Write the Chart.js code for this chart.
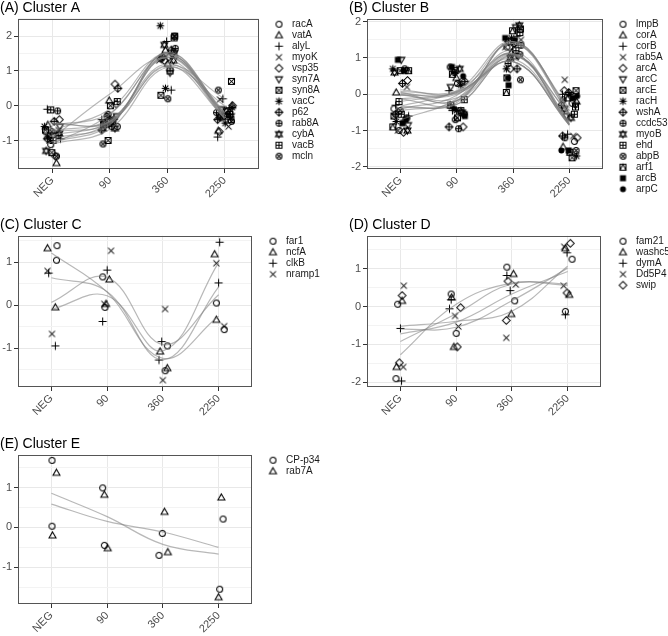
<!DOCTYPE html>
<html>
<head>
<meta charset="utf-8">
<script src="https://cdn.jsdelivr.net/npm/chart.js@4.4.0/dist/chart.umd.min.js"></script>
<style>
  body { margin: 0; background: #fff; width: 668px; height: 636px; overflow: hidden; position: relative; }
  canvas { position: absolute; }
</style>
</head>
<body>
<canvas id="panelA" width="334" height="210" style="left:0px;top:0px"></canvas>
<canvas id="panelB" width="345" height="210" style="left:349px;top:0px"></canvas>
<canvas id="panelC" width="334" height="210" style="left:0px;top:217px"></canvas>
<canvas id="panelD" width="345" height="210" style="left:349px;top:217px"></canvas>
<canvas id="panelE" width="334" height="200" style="left:0px;top:436px"></canvas>
<script>
// time points on the x axis
const timepoints = ['NEG', '90', '360', '2250']

// each gene row: NEG rep1, NEG rep2, 90 rep1, 90 rep2, 360 rep1, 360 rep2, 2250 rep1, 2250 rep2
const genesA = ['racA', 'vatA', 'alyL', 'myoK', 'vsp35', 'syn7A', 'syn8A', 'vacC', 'p62', 'rab8A', 'cybA', 'vacB', 'mcln']
const valuesA = [
  [-0.75, -1.12, -0.45, -0.60, 1.35, 1.55, -0.15, -0.20],
  [-0.55, -1.65, 0.15, -0.65, 1.60, 1.20, 0.00, -0.72],
  [-0.10, -0.95, -0.40, -0.50, 0.45, 1.85, -0.90, 0.20],
  [-0.70, -1.00, -0.35, -0.55, 1.50, 1.30, 0.18, -0.60],
  [-0.40, -1.45, 0.62, 0.05, 1.30, 1.40, -0.75, 0.00],
  [-0.85, -0.60, -0.50, -0.30, 0.95, 1.45, -0.30, -0.10],
  [-1.35, -0.70, -1.00, 0.00, 2.00, 0.30, 0.70, -0.30],
  [-0.60, -0.90, -0.40, -0.55, 2.30, 0.50, -0.50, -0.05],
  [-0.45, -0.95, 0.50, -0.70, 1.40, 1.60, -0.30, -0.40],
  [-0.15, -0.85, -0.30, -0.60, 1.40, 1.65, -0.20, -0.35],
  [-1.30, -0.80, -0.45, -0.65, 1.30, 1.75, -0.15, -0.30],
  [-0.12, -1.00, 0.12, -0.55, 1.95, 1.00, -0.25, -0.40],
  [-1.45, -0.75, -1.10, -0.25, 0.20, 2.00, 0.45, -0.45]
]

const genesB = ['lmpB', 'corA', 'corB', 'rab5A', 'arcA', 'arcC', 'arcE', 'racH', 'wshA', 'ccdc53', 'myoB', 'ehd', 'abpB', 'arf1', 'arcB', 'arpC']
const valuesB = [
  [-0.40, -1.00, 0.30, -0.55, 1.30, 1.10, -0.25, -1.30],
  [0.05, -0.70, 0.45, -0.30, 1.15, 1.05, -0.20, -1.45],
  [-0.30, -0.60, 0.10, -0.45, 1.60, 1.20, 0.00, -1.10],
  [0.20, -1.00, 0.30, -0.35, 1.50, 1.30, 0.40, -1.15],
  [0.38, -1.05, 0.35, -0.90, 0.70, 1.40, 0.10, -1.20],
  [0.95, -0.85, 0.20, -0.55, 1.85, 1.05, -0.30, -0.60],
  [0.65, -0.60, 0.65, -0.65, 1.80, 0.45, 0.10, -1.75],
  [0.70, -0.75, 0.25, -0.45, 0.70, 1.55, 0.00, -1.70],
  [0.30, -0.55, 0.35, -0.90, 1.45, 0.70, 0.05, -1.15],
  [0.65, -0.65, 0.60, -0.95, 0.85, 1.35, -0.30, -1.20],
  [0.60, -1.00, 0.70, -0.50, 1.90, 1.00, -0.65, -0.40],
  [-0.20, -0.55, -0.15, -0.30, 1.70, 1.20, -0.55, -0.35],
  [0.70, -0.45, 0.75, -0.70, 1.40, 0.40, -0.15, -1.55],
  [0.65, -0.90, 0.55, -0.45, 1.75, 0.05, -0.10, -1.60],
  [0.95, -0.80, 0.75, -0.60, 1.55, 0.25, -0.10, -1.55],
  [0.65, -0.70, 0.50, -0.40, 1.50, 0.45, -0.05, -1.55]
]

const genesC = ['far1', 'ncfA', 'clkB', 'nramp1']
const valuesC = [
  [1.39, 1.05, 0.66, -0.05, -0.95, -1.53, 0.05, -0.57],
  [1.33, -0.05, 0.60, 0.03, -1.08, -1.47, 1.19, -0.34],
  [0.75, -0.95, 0.82, -0.38, -0.85, -1.28, 1.47, 0.52],
  [0.80, -0.67, 1.27, 0.03, -0.09, -1.75, 0.98, -0.49]
]
const jitterC = [
  [0.10, 0.09, -0.08, -0.04, 0.08, 0.04, -0.04, 0.10],
  [-0.07, 0.07, 0.04, -0.02, -0.05, 0.08, -0.07, -0.04],
  [-0.05, 0.07, 0.00, -0.08, -0.02, -0.07, 0.02, 0.00],
  [-0.07, 0.01, 0.07, -0.05, 0.04, 0.00, -0.04, 0.10]
]

const genesD = ['fam21', 'washc5', 'dymA', 'Dd5P4', 'swip']
const valuesD = [
  [0.06, -1.91, 0.33, -0.71, 1.04, 0.15, 1.25, -0.13],
  [0.15, -1.60, 0.24, -1.07, 0.86, -0.20, 1.54, 0.31],
  [-0.58, -1.97, 0.18, -0.06, 0.82, 0.42, 1.42, -0.22],
  [0.55, -1.60, -0.25, -0.53, 0.58, -0.83, 1.58, 0.55],
  [0.29, -1.49, -0.03, -1.07, 0.67, -0.37, 1.67, 0.36]
]
const jitterD = [
  [-0.05, -0.08, -0.09, 0.00, -0.09, 0.05, 0.08, -0.04],
  [0.03, -0.07, -0.08, -0.04, 0.03, -0.01, -0.04, 0.03],
  [0.00, 0.02, -0.09, -0.12, -0.09, -0.03, -0.01, -0.04],
  [0.06, 0.05, -0.02, 0.04, 0.07, -0.10, -0.06, -0.07],
  [0.03, -0.02, 0.08, 0.02, -0.07, -0.10, 0.05, -0.01]
]

const genesE = ['CP-p34', 'rab7A']
const valuesE = [
  [1.68, 0.03, 0.99, -0.45, -0.15, -0.70, 0.21, -1.55],
  [1.37, -0.20, 0.82, -0.52, 0.39, -0.62, 0.75, -1.75]
]
const jitterE = [
  [0.01, 0.01, -0.08, -0.05, -0.01, -0.07, 0.08, 0.02],
  [0.09, 0.02, -0.05, 0.01, 0.03, 0.09, 0.05, 0.00]
]

// horizontal spread used for the crowded panels A and B
const jitterPattern = [-0.12, 0.05, 0.14, -0.03, 0.09, -0.14, 0.01, 0.11, -0.08, 0.13, -0.05, 0.07, -0.11, 0.03, -0.01, 0.12, -0.09]
function spread(n) {
  var out = []
  for (let g = 0; g < n; g++) {
    var row = []
    for (let k = 0; k < 8; k++) row.push(jitterPattern[(g * 8 + k * 3) % jitterPattern.length])
    out.push(row)
  }
  return out
}

const fontFamily = "'Liberation Sans', Arial, sans-serif"
Chart.defaults.font.family = fontFamily

// ggplot-like point shapes 1..16
const shapeKinds = ['circle', 'triUp', 'plus', 'cross', 'diamond', 'triDown', 'squareCross', 'asterisk',
  'diamondPlus', 'circlePlus', 'star6', 'squarePlus', 'circleCross', 'squareTri', 'squareFill', 'circleFill']

// lead = empty room left of the symbol (used to push legend keys away from the panel)
function makeShape(kind, lead) {
  const m = 5.5
  const cv = document.createElement('canvas')
  cv.width = 11 + lead; cv.height = 11
  const g = cv.getContext('2d')
  g.translate(lead, 0)
  g.strokeStyle = '#000'; g.fillStyle = '#000'; g.lineWidth = 1.05
  const circle = (r) => { g.beginPath(); g.arc(m, m, r, 0, Math.PI * 2); g.stroke() }
  const poly = (pts) => { g.beginPath(); pts.forEach((p, i) => i ? g.lineTo(m + p[0], m + p[1]) : g.moveTo(m + p[0], m + p[1])); g.closePath(); g.stroke() }
  const seg = (a, b, c, d) => { g.beginPath(); g.moveTo(m + a, m + b); g.lineTo(m + c, m + d); g.stroke() }
  const plus = (r) => { seg(-r, 0, r, 0); seg(0, -r, 0, r) }
  const cross = (r) => { seg(-r, -r, r, r); seg(-r, r, r, -r) }
  const triUp = [[0, -3.6], [3.5, 2.4], [-3.5, 2.4]]
  const triDown = [[0, 3.6], [3.5, -2.4], [-3.5, -2.4]]
  const diamond = [[0, -3.8], [3.8, 0], [0, 3.8], [-3.8, 0]]
  const square = [[-3, -3], [3, -3], [3, 3], [-3, 3]]
  switch (kind) {
    case 'circle': circle(3); break
    case 'triUp': poly(triUp); break
    case 'plus': plus(4); break
    case 'cross': cross(3); break
    case 'diamond': poly(diamond); break
    case 'triDown': poly(triDown); break
    case 'squareCross': poly(square); cross(3); break
    case 'asterisk': plus(3.8); cross(2.8); break
    case 'diamondPlus': poly(diamond); plus(3.8); break
    case 'circlePlus': circle(3); plus(3); break
    case 'star6': poly(triUp); poly(triDown); break
    case 'squarePlus': poly(square); plus(3); break
    case 'circleCross': circle(3); cross(2.1); break
    case 'squareTri': poly(square); poly([[-3, 3], [0, -3], [3, 3]]); break
    case 'squareFill': g.fillRect(m - 3, m - 3, 6, 6); break
    case 'circleFill': g.beginPath(); g.arc(m, m, 3, 0, Math.PI * 2); g.fill(); break
  }
  return cv
}
const shapes = shapeKinds.map(k => makeShape(k, 0))

// panel frame drawn round the plotting area
const frame = {
  id: 'frame',
  afterDatasetsDraw(chart) {
    const a = chart.chartArea
    const g = chart.ctx
    g.save()
    g.strokeStyle = '#555'
    g.lineWidth = 1
    g.strokeRect(Math.round(a.left) + 0.5, Math.round(a.top) + 0.5, Math.round(a.right - a.left) - 1, Math.round(a.bottom - a.top) - 1)
    g.restore()
  }
}

// right padding so the panel ends at plotRight; legend width = 32 + gap + widest label
function rightPad(canvasW, plotRight, gap, genes) {
  const c = document.createElement('canvas').getContext('2d')
  c.font = '10px ' + fontFamily
  const tw = Math.max(...genes.map(t => c.measureText(t).width))
  return canvasW - plotRight - (32 + gap + tw)
}

function drawPanel(id, titleText, genes, values, jitter, yMin, yMax, xHeight, plotRight, gap) {
  var cv = document.getElementById(id)
  var keyShapes = shapeKinds.map(k => makeShape(k, gap))
  var datasets = []
  for (let g = 0; g < genes.length; g++) {
    datasets.push({
      label: genes[g],
      data: values[g].map((v, k) => ({ x: Math.floor(k / 2) + jitter[g][k], y: v })),
      pointStyle: shapes[g],
      order: 1
    })
  }
  // smooth fit per gene through the replicate means
  for (let g = 0; g < genes.length; g++) {
    datasets.push({
      label: genes[g] + ' fit',
      data: timepoints.map((t, c) => ({ x: c, y: (values[g][2 * c] + values[g][2 * c + 1]) / 2 })),
      showLine: true,
      tension: 0.4,
      borderColor: 'rgba(125,125,125,0.55)',
      borderWidth: 1.2,
      pointRadius: 0,
      order: 0
    })
  }

  new Chart(cv, {
    type: 'scatter',
    data: { datasets: datasets },
    plugins: [frame],
    options: {
      responsive: false,
      devicePixelRatio: 1,
      animation: false,
      events: [],
      layout: { padding: { left: 0, right: rightPad(cv.width, plotRight, gap, genes), top: 0, bottom: 0 } },
      scales: {
        x: {
          type: 'linear', min: -0.6, max: 3.6,
          afterBuildTicks: s => { s.ticks = [0, 1, 2, 3].map(v => ({ value: v })) },
          afterFit: s => { s.height = xHeight },
          ticks: {
            autoSkip: false, minRotation: 45, maxRotation: 45, padding: 1,
            color: '#4d4d4d', font: { size: 11 },
            callback: v => timepoints[v]
          },
          grid: { color: '#e8e8e8', tickColor: '#333', tickLength: 4 },
          border: { display: false }
        },
        y: {
          type: 'linear', min: yMin, max: yMax,
          afterBuildTicks: s => {
            var t = []
            for (let v = Math.ceil(yMin * 2) / 2; v <= yMax; v += 0.5) t.push({ value: v })
            s.ticks = t
          },
          afterFit: s => { s.width = 18 },
          ticks: {
            autoSkip: false, padding: 2, color: '#4d4d4d', font: { size: 11 },
            callback: v => Number.isInteger(v) ? String(v) : ''
          },
          grid: {
            color: c => Number.isInteger(c.tick.value) ? '#e8e8e8' : '#f3f3f3',
            tickColor: c => Number.isInteger(c.tick.value) ? '#333' : 'rgba(0,0,0,0)',
            tickLength: 4
          },
          border: { display: false }
        }
      },
      plugins: {
        tooltip: { enabled: false },
        title: {
          display: true, text: titleText, align: 'start', color: '#000',
          font: { size: 14, weight: 'normal' }, padding: { top: 0, bottom: 2 }
        },
        legend: {
          position: 'right', align: 'start',
          title: { display: true, text: '', font: { size: 1 }, padding: { top: 17, bottom: 0 } },
          labels: {
            usePointStyle: true, pointStyleWidth: 16 + gap, boxHeight: 10, padding: 1,
            color: '#1a1a1a', font: { size: 10 },
            generateLabels: chart => Chart.defaults.plugins.legend.labels.generateLabels(chart)
              .filter(item => item.datasetIndex < genes.length)
              .map(item => Object.assign(item, { pointStyle: keyShapes[item.datasetIndex] }))
          }
        }
      }
    }
  })
}

drawPanel('panelA', '(A) Cluster A', genesA, valuesA, spread(genesA.length), -1.82, 2.5, 41, 259, 11)
drawPanel('panelB', '(B) Cluster B', genesB, valuesB, spread(genesB.length), -2.06, 2.08, 41, 254, 11)
drawPanel('panelC', '(C) Cluster C', genesC, valuesC, jitterC, -1.91, 1.62, 40, 252, 12)
drawPanel('panelD', '(D) Cluster D', genesD, valuesD, jitterD, -2.13, 1.87, 40, 252, 13)
drawPanel('panelE', '(E) Cluster E', genesE, valuesE, jitterE, -1.92, 1.82, 32, 252, 12)
</script>
</body>
</html>
